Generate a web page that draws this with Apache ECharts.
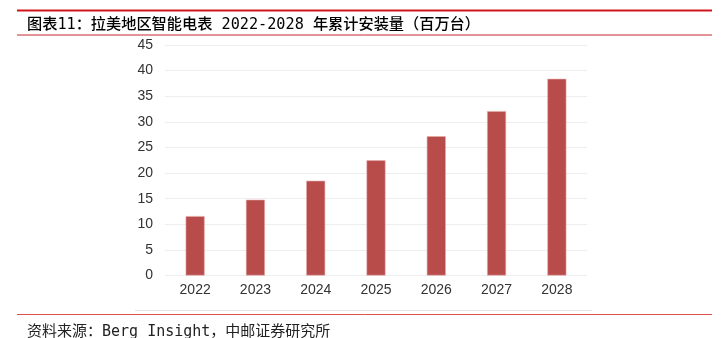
<!DOCTYPE html>
<html>
<head>
<meta charset="utf-8">
<script src="https://cdn.jsdelivr.net/npm/echarts@6/dist/echarts.min.js"></script>
<style>
html,body{margin:0;padding:0;background:#fff;}
#c{width:727px;height:338px;}
</style>
</head>
<body>
<div id="c"></div>
<script>
var categories = ['2022', '2023', '2024', '2025', '2026', '2027', '2028'];
var installs = [11.6, 14.8, 18.5, 22.5, 27.2, 32.1, 38.4];
var yTicks = [0, 5, 10, 15, 20, 25, 30, 35, 40, 45];

var titleText = '图表11：拉美地区智能电表 2022-2028 年累计安装量（百万台）';
var sourceText = '资料来源：Berg Insight，中邮证券研究所';

var chart = echarts.init(document.getElementById('c'), null, {renderer: 'canvas'});
chart.setOption({
  animation: false,
  backgroundColor: '#fff',
  grid: {left: 165, right: 140, top: 45, bottom: 62.5, containLabel: false},
  xAxis: {
    type: 'category',
    data: categories,
    axisLine: {show: false},
    axisTick: {show: false},
    axisLabel: {color: '#333', fontSize: 14, fontFamily: 'Liberation Sans, Arial, sans-serif', margin: 8}
  },
  yAxis: {
    type: 'value',
    min: yTicks[0],
    max: yTicks[yTicks.length - 1],
    interval: 5,
    axisLine: {show: false},
    axisTick: {show: false},
    axisLabel: {color: '#333', fontSize: 14, fontFamily: 'Liberation Sans, Arial, sans-serif', margin: 12},
    splitLine: {lineStyle: {color: '#eeeeee', width: 1}}
  },
  series: [{
    type: 'bar',
    data: installs,
    barWidth: 19,
    itemStyle: {color: '#B84C4B', borderColor: '#e6a9a8', borderWidth: 0.6}
  }],
  graphic: [
    {type: 'line', shape: {x1: 17, y1: 10.5, x2: 712, y2: 10.5}, style: {stroke: '#d0141c', lineWidth: 2}},
    {type: 'line', shape: {x1: 17, y1: 35, x2: 712, y2: 35}, style: {stroke: '#c8282c', lineWidth: 1}},
    {type: 'text', left: 27, top: 17, style: {text: titleText, font: '500 15.2px "DejaVu Sans Mono", "Noto Sans CJK SC", monospace', fill: '#000'}},
    {type: 'line', shape: {x1: 135, y1: 310.5, x2: 592, y2: 310.5}, style: {stroke: '#e6e6e6', lineWidth: 1}},
    {type: 'line', shape: {x1: 17, y1: 314.5, x2: 712, y2: 314.5}, style: {stroke: '#e05050', lineWidth: 1}},
    {type: 'text', left: 27, top: 325, style: {text: sourceText, font: '15px "DejaVu Sans Mono", "Noto Sans CJK SC", monospace', fill: '#222'}}
  ]
});
</script>
</body>
</html>
